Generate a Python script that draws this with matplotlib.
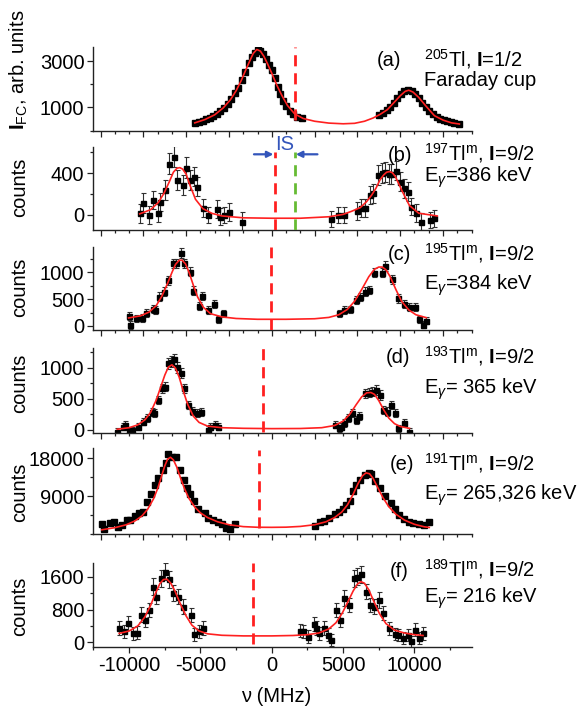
import matplotlib
matplotlib.use("Agg")
import matplotlib.pyplot as plt
from matplotlib.ticker import MultipleLocator, FixedLocator

plt.rcParams['font.family'] = ['Liberation Sans', 'DejaVu Sans']
plt.rcParams['mathtext.fontset'] = 'custom'
plt.rcParams['mathtext.rm'] = 'Liberation Sans'
plt.rcParams['mathtext.it'] = 'Liberation Sans:italic'
plt.rcParams['mathtext.bf'] = 'Liberation Sans:bold'
plt.rcParams['axes.unicode_minus'] = False

# ---- data (x in MHz) ----

# (a) 205Tl, Faraday cup
a_x = [-5350, -5100, -4850, -4600, -4350, -4100, -3850, -3600, -3350, -3100, -2850, -2600, -2350, -2100,
       -1850, -1600, -1400, -1200, -1000, -800, -600, -400, -200, 0, 200, 400, 600, 800, 1000, 1250,
       1500, 1800, 2150,
       7550, 7800, 8050, 8300, 8550, 8800, 9050, 9300, 9550, 9800, 10050, 10300, 10550, 10800, 11050,
       11300, 11550, 11800, 12050, 12300, 12550, 12800, 13100]
a_y = [330, 370, 420, 490, 560, 630, 720, 830, 960, 1150, 1380, 1600, 1850, 2180,
       2520, 2900, 3180, 3360, 3470, 3420, 3300, 3100, 2850, 2600, 2250, 1880, 1560, 1280, 1060, 860,
       700, 600, 520,
       670, 760, 880, 1020, 1200, 1400, 1580, 1700, 1750, 1690, 1560, 1400, 1200, 1030, 860,
       720, 600, 510, 450, 400, 350, 310, 280]
a_fit_x = [-5400, -4700, -4000, -3400, -2900, -2500, -2150, -1850, -1550, -1300, -1050, -800, -550, -300,
           0, 350, 700, 1100, 1600, 2200, 3000, 4000, 5000, 5800, 6500, 7100, 7600, 8100, 8600, 9000,
           9350, 9600, 9900, 10300, 10800, 11400, 12000, 12600, 13150]
a_fit_y = [330, 470, 680, 980, 1330, 1720, 2150, 2580, 3000, 3330, 3500, 3430, 3200, 2880,
           2470, 1960, 1520, 1080, 720, 520, 400, 320, 290, 310, 400, 540, 700, 900, 1230, 1500,
           1690, 1740, 1660, 1430, 1060, 640, 450, 330, 280]

# (b) 197Tl m
b_x = [-9260, -9000, -8610, -8350, -8010, -7830, -7490, -7180, -6840, -6650, -6260, -6000, -5740, -5480,
       -5220, -4830, -4440, -3840, -3650, -3340, -3000, -2090,
       4170, 4620, 5090, 6000, 6260, 6520, 6910, 7100, 7440, 7700, 7960, 8220, 8350, 8690, 9000, 9260,
       9520, 9780, 10100, 10440, 11090, 11350]
b_y = [16, 112, 0, 144, 16, 125, 240, 490, 560, 336, 288, 454, 336, 368,
       272, 64, 0, 60, -16, 0, 30, -64,
       -40, 0, 0, 40, 64, 64, 192, 208, 380, 400, 410, 390, 395, 426, 320, 256,
       224, 80, 16, -64, -48, -32]
b_err = [90, 95, 85, 90, 85, 90, 95, 100, 100, 95, 95, 100, 95, 95, 90, 85, 80, 85, 80, 80, 85, 90,
         80, 80, 80, 85, 85, 85, 90, 90, 95, 95, 95, 95, 95, 95, 95, 90, 90, 85, 85, 80, 80, 80]
b_fit_x = [-9260, -8500, -7950, -7550, -7180, -6900, -6650, -6450, -6250, -6000, -5750, -5350, -4830,
           -4200, -3500, -2000, 0, 2000, 4000, 5000, 5600, 6200, 6650, 7000, 7300, 7600, 7850, 8050,
           8250, 8450, 8650, 8900, 9150, 9650, 10300, 11600]
b_fit_y = [10, 50, 120, 210, 320, 410, 448, 454, 440, 390, 290, 150, 60,
           15, -10, -28, -32, -32, -18, 5, 35, 70, 128, 190, 256, 340, 385, 410,
           416, 405, 370, 300, 225, 90, 16, -10]

# (c) 195Tl m
c_x = [-10040, -9910, -9520, -9130, -8790, -8350, -8220, -7880, -7570, -7250, -6910, -6700, -6390,
       -6130, -5740, -5530, -5090, -4900, -4440, -4040, -3780, -3390,
       4700, 5090, 5480, 5870, 6180, 6520, 6780, 7180, 7700, 7960, 8400, 8870, 9260, 9650, 10040,
       10300, 10620, 10830]
c_y = [186, 19, 143, 143, 236, 311, 298, 547, 640, 857, 1168, 1168, 1366,
       1168, 1012, 658, 373, 559, 298, 410, 124, 236,
       236, 298, 311, 484, 547, 640, 671, 994, 994, 1118, 870, 516, 410, 348, 348,
       124, 19, 99]
c_err = [70, 70, 70, 75, 75, 75, 75, 80, 80, 85, 90, 90, 95, 90, 85, 80, 75, 75, 70, 70, 65, 70,
         70, 70, 70, 75, 75, 80, 80, 85, 85, 90, 85, 80, 75, 75, 75, 70, 65, 70]
c_fit_x = [-10040, -9200, -8600, -8100, -7700, -7300, -7000, -6750, -6500, -6300, -6050, -5800, -5500,
           -5200, -4800, -4300, -3500, -2500, -1000, 1000, 3000, 4000, 4700, 5300, 5800, 6300, 6800,
           7200, 7500, 7750, 8000, 8300, 8700, 9100, 9600, 10100, 10830]
c_fit_y = [150, 190, 260, 380, 560, 800, 1000, 1150, 1225, 1230, 1160, 1000, 760,
           540, 350, 230, 170, 140, 125, 125, 135, 160, 210, 310, 460, 680, 920,
           1060, 1100, 1100, 1050, 920, 680, 460, 300, 210, 155]

# (d) 193Tl m
d_x = [-10830, -10440, -10310, -10040, -9780, -9390, -9000, -8740, -8430, -8270, -8010, -7700, -7510,
       -7250, -7040, -6860, -6650, -6390, -6130, -5870, -5560, -5270, -4960, -4440, -4310, -3990, -3780,
       4440, 4700, 4880, 5090, 5350, 5610, 5870, 6130, 6520, 6780, 7040, 7310, 7570, 7830, 8090, 8350,
       8610, 8870, 9260, 9650]
d_y = [-27, 53, 80, 0, 0, 53, 134, 187, 294, 267, 481, 668, 695,
       1070, 1096, 1134, 1005, 909, 668, 401, 300, 270, 290, 0, 53, 80, 53,
       80, 27, 53, 107, 187, 267, 160, 225, 588, 599, 615, 642, 561, 321, 294, 401,
       278, 27, 118, -27]
d_err = [50, 55, 55, 50, 50, 55, 60, 60, 65, 65, 70, 75, 75, 85, 85, 85, 85, 80, 75, 70, 65, 65, 65,
         55, 55, 55, 55,
         55, 55, 55, 60, 60, 65, 60, 65, 75, 75, 75, 75, 75, 70, 70, 70, 65, 55, 60, 50]
d_fit_x = [-10830, -10000, -9400, -8900, -8500, -8100, -7800, -7500, -7250, -7000, -6750, -6500, -6200,
           -5900, -5500, -5100, -4500, -3500, -2000, 0, 2000, 3500, 4400, 5000, 5500, 5900, 6300,
           6650, 6950, 7200, 7500, 7850, 8200, 8600, 9000, 9650]
d_fit_y = [10, 35, 80, 160, 280, 480, 680, 880, 1010, 1045, 990, 850, 620,
           410, 220, 120, 60, 35, 25, 20, 22, 35, 70, 140, 260, 400, 530,
           595, 600, 570, 470, 320, 190, 100, 55, 25]

# (e) 191Tl m
e_x = [-11920, -11740, -11350, -11090, -10780, -10510, -10180, -9910, -9600, -9310, -9000, -8740, -8480,
       -8220, -7960, -7640, -7440, -7250, -6970, -6710, -6440, -6180, -5950, -5740, -5480, -5140,
       -4700, -4440, -4100, -3780, -3520, -3180, -2950, -2610,
       3000, 3390, 3650, 4040, 4440, 4700, 4960, 5220, 5480, 5690, 5920, 6180, 6520, 6780, 6970,
       7250, 7570, 7960, 8350, 8610, 8950, 9260, 9650, 9910, 10310, 10700, 11040]
e_y = [2350, 1170, 2500, 2740, 1720, 2110, 3370, 3290, 4300, 5090, 5240, 7590, 9390,
       11740, 13300, 15260, 16830, 19000, 18230, 18230, 15260, 12910, 10960, 9390, 7830, 5870,
       5090, 3910, 3290, 2740, 2350, 1330, 1170, 2350,
       1960, 2740, 3130, 3910, 4700, 5240, 5870, 6810, 7830, 10170, 11740, 12910, 14090, 14480, 14320,
       12520, 10960, 9000, 7440, 5870, 4460, 3520, 2740, 2500, 2350, 2190, 2900]
e_fit_x = [-11920, -11000, -10200, -9600, -9100, -8700, -8300, -8000, -7750, -7500, -7300, -7100,
           -6900, -6650, -6400, -6100, -5800, -5400, -5000, -4500, -3800, -3000, -2000, -1000, 0,
           1000, 2000, 3000, 3800, 4400, 4900, 5300, 5700, 6050, 6350, 6600, 6850, 7100, 7400, 7800,
           8200, 8700, 9300, 10000, 10700, 11040]
e_fit_y = [1000, 1500, 2200, 3100, 4300, 5900, 8300, 10800, 13500, 16200, 17800, 18200,
           17600, 15800, 13300, 10600, 8400, 6400, 5000, 3900, 2900, 2200, 1750, 1600, 1580,
           1620, 1800, 2200, 2900, 3900, 5200, 6900, 9400, 12000, 13800, 14500, 14300, 13200, 11200, 8600,
           6500, 4700, 3300, 2300, 1700, 1550]

# (f) 189Tl m
f_x = [-10700, -10360, -10100, -9710, -9470, -9180, -8870, -8610, -8350, -8090, -7750, -7490, -7230,
       -6910, -6600, -6260, -5660, -5480, -5090, -4830,
       1960, 2170, 2530, 2950, 3080, 3310, 3650, 3910, 4170, 4490, 4770, 5090, 5400, 5740, 6000, 6260,
       6570, 6910, 7180, 7490, 7830, 8220, 8610, 8870, 9210, 9520, 9780, 10040, 10310, 10620]
f_y = [347, 267, 469, 226, 242, 671, 549, 792, 1358, 1115, 1560, 1721, 1535,
       1196, 1115, 873, 671, 202, 267, 347,
       291, 267, 145, 444, 347, 226, 347, 186, 65, 792, 549, 1075, 913, 1560, 1600, 1660,
       1236, 913, 873, 1034, 711, 347, 202, 186, 105, 186, 24, 307, 105, 226]
f_err = [170, 160, 170, 160, 160, 180, 170, 180, 200, 190, 200, 210, 200, 190, 190, 180, 170, 160, 160, 170,
         160, 160, 150, 170, 170, 160, 170, 160, 150, 180, 170, 190, 180, 200, 210, 210, 190, 180, 180, 190,
         170, 160, 150, 150, 140, 150, 140, 160, 150, 160]
f_fit_x = [-10700, -10000, -9400, -8900, -8500, -8150, -7850, -7600, -7350, -7100, -6800, -6400, -6000,
           -5600, -5100, -4500, -3500, -2000, 0, 1500, 2500, 3300, 4000, 4500, 4950, 5350, 5700, 6000,
           6250, 6500, 6800, 7150, 7550, 8000, 8600, 9300, 10000, 10600]
f_fit_y = [220, 280, 400, 620, 900, 1200, 1430, 1530, 1540, 1450, 1260, 930, 640,
           420, 280, 210, 175, 160, 160, 170, 190, 230, 330, 480, 720, 1000, 1250, 1420,
           1480, 1440, 1280, 1000, 700, 460, 300, 230, 190, 170]

# centre-of-gravity marks (MHz)
cog_x = [1600, 200, -80, -600, -913, -1330]
ref_cog = 1600

labels = ['(a)', '(b)', '(c)', '(d)', '(e)', '(f)']
isotopes = [r'$^{205}$Tl, $\mathbf{I}$=1/2',
            r'$^{197}$Tl$^{\mathrm{m}}$, $\mathbf{I}$=9/2',
            r'$^{195}$Tl$^{\mathrm{m}}$, $\mathbf{I}$=9/2',
            r'$^{193}$Tl$^{\mathrm{m}}$, $\mathbf{I}$=9/2',
            r'$^{191}$Tl$^{\mathrm{m}}$, $\mathbf{I}$=9/2',
            r'$^{189}$Tl$^{\mathrm{m}}$, $\mathbf{I}$=9/2']
second_lines = ['Faraday cup', r'E$_{\gamma}$=386 keV', r'E$_{\gamma}$=384 keV',
                r'E$_{\gamma}$= 365 keV', r'E$_{\gamma}$= 265,326 keV', r'E$_{\gamma}$= 216 keV']

# ---- layout ----
W, H = 586, 709
fig = plt.figure(figsize=(W / 100, H / 100), dpi=100)
X0, X1 = 93.5, 471.5
boxes = [(46.7, 130.5), (146.7, 230), (246.7, 330), (348.3, 433.3), (448.3, 534), (562.7, 647)]
ylims = [(0, 3620), (-145, 655), (-75, 1480), (-55, 1310), (0, 20340), (-110, 1940)]
ymajor = [[1000, 3000], [0, 400], [0, 500, 1000], [0, 500, 1000], [9000, 18000], [0, 800, 1600]]
yminor = [[0, 2000], [-200, 200, 600], [250, 750, 1250], [250, 750, 1250], [0, 4500, 13500], [400, 1200]]
dash_span = [(0.13, 1.0), (0.0, 0.94), (0.0, 1.0), (0.02, 1.0), (0.074, 0.98), (0.04, 1.0)]
label_y = [66.5, 160.7, 260, 363.3, 470, 576.7]
second_y = [86, 181.7, 290, 393.3, 500, 602.7]
paren_x = [377, 388, 388, 386, 390, 390]
ylab_y = [70, 187, 287, 383, 492, 606]

RED = '#ff2020'
BLUE = '#3355bb'
FS = 14.5


def fx(x):
    return x / W


def fy(y):
    return 1 - y / H


axes = []
for i, (top, bot) in enumerate(boxes):
    ax = fig.add_axes([fx(X0), fy(bot), (X1 - X0) / W, (bot - top) / H])
    ax.set_xlim(-12500, 14000)
    ax.set_ylim(*ylims[i])
    ax.spines['top'].set_visible(False)
    ax.spines['right'].set_visible(False)
    for s in ('left', 'bottom'):
        ax.spines[s].set_linewidth(1.0)
        ax.spines[s].set_color('#222222')
    ax.yaxis.set_major_locator(FixedLocator(ymajor[i]))
    ax.yaxis.set_minor_locator(FixedLocator(yminor[i]))
    if i == 5:
        ax.xaxis.set_major_locator(MultipleLocator(5000))
        ax.xaxis.set_minor_locator(MultipleLocator(2500))
    else:
        ax.xaxis.set_major_locator(MultipleLocator(3000))
        ax.xaxis.set_minor_locator(MultipleLocator(1000))
        ax.tick_params(axis='x', labelbottom=False)
    ax.tick_params(which='major', direction='out', length=4.5, width=0.9, labelsize=FS, pad=2,
                   color='#222222')
    ax.tick_params(which='minor', direction='out', length=2.5, width=0.9, color='#222222')
    ax.patch.set_alpha(0)
    axes.append(ax)

ebkw = dict(fmt='s', color='black', ms=3.6, ecolor='#303030', elinewidth=0.8,
            capsize=1.8, capthick=0.8, zorder=2)

# (a)
axes[0].plot(a_x, a_y, 's', color='black', ms=3.8, zorder=2)
axes[0].plot(a_fit_x, a_fit_y, color=RED, lw=1.2, zorder=3)
# (b)
axes[1].errorbar(b_x, b_y, yerr=b_err, **ebkw)
axes[1].plot(b_fit_x, b_fit_y, color=RED, lw=1.2, zorder=3)
# (c)
axes[2].errorbar(c_x, c_y, yerr=c_err, **ebkw)
axes[2].plot(c_fit_x, c_fit_y, color=RED, lw=1.2, zorder=3)
# (d)
axes[3].errorbar(d_x, d_y, yerr=d_err, **ebkw)
axes[3].plot(d_fit_x, d_fit_y, color=RED, lw=1.2, zorder=3)
# (e)
axes[4].plot(e_x, e_y, 's', color='black', ms=3.8, zorder=2)
axes[4].plot(e_fit_x, e_fit_y, color=RED, lw=1.2, zorder=3)
# (f)
axes[5].errorbar(f_x, f_y, yerr=f_err, **ebkw)
axes[5].plot(f_fit_x, f_fit_y, color=RED, lw=1.2, zorder=3)

# dashed centroid lines
for i, ax in enumerate(axes):
    lo, hi = dash_span[i]
    ax.axvline(cog_x[i], lo, hi, color=RED, lw=2.0, dashes=(4, 2.5), zorder=4)
axes[1].axvline(ref_cog, 0.0, 0.94, color='#66bb33', lw=2.0, dashes=(4, 2.5), zorder=4)

# isotope shift arrows
arrow_y = 582
axes[1].annotate('', xy=(cog_x[1] - 90, arrow_y), xytext=(cog_x[1] - 1450, arrow_y),
                 arrowprops=dict(arrowstyle='-|>', color=BLUE, lw=1.6, mutation_scale=9,
                                 shrinkA=0, shrinkB=0), annotation_clip=False)
axes[1].annotate('', xy=(ref_cog + 90, arrow_y), xytext=(ref_cog + 1600, arrow_y),
                 arrowprops=dict(arrowstyle='-|>', color=BLUE, lw=1.6, mutation_scale=9,
                                 shrinkA=0, shrinkB=0), annotation_clip=False)
axes[1].text((cog_x[1] + ref_cog) / 2, 672, 'IS', color=BLUE, fontsize=FS, ha='center',
             va='center', clip_on=False)

# panel annotations
for i in range(6):
    fig.text(fx(paren_x[i]), fy(label_y[i]), labels[i], fontsize=FS, va='baseline', ha='left')
    fig.text(fx(424), fy(label_y[i]), isotopes[i], fontsize=FS, va='baseline', ha='left')
    fig.text(fx(424), fy(second_y[i]), second_lines[i], fontsize=FS, va='baseline', ha='left')

# y labels
fig.text(fx(19), fy(ylab_y[0]), r'$\mathbf{I}_{\mathrm{FC}}$, arb. units', rotation=90,
         fontsize=FS, ha='center', va='center')
for i in range(1, 6):
    fig.text(fx(19.5), fy(ylab_y[i]), 'counts', rotation=90, fontsize=FS, ha='center', va='center')

fig.text(fx(276), fy(697), '\u03bd (MHz)', fontsize=FS, ha='center', va='center')

fig.savefig('out.png', dpi=100)
